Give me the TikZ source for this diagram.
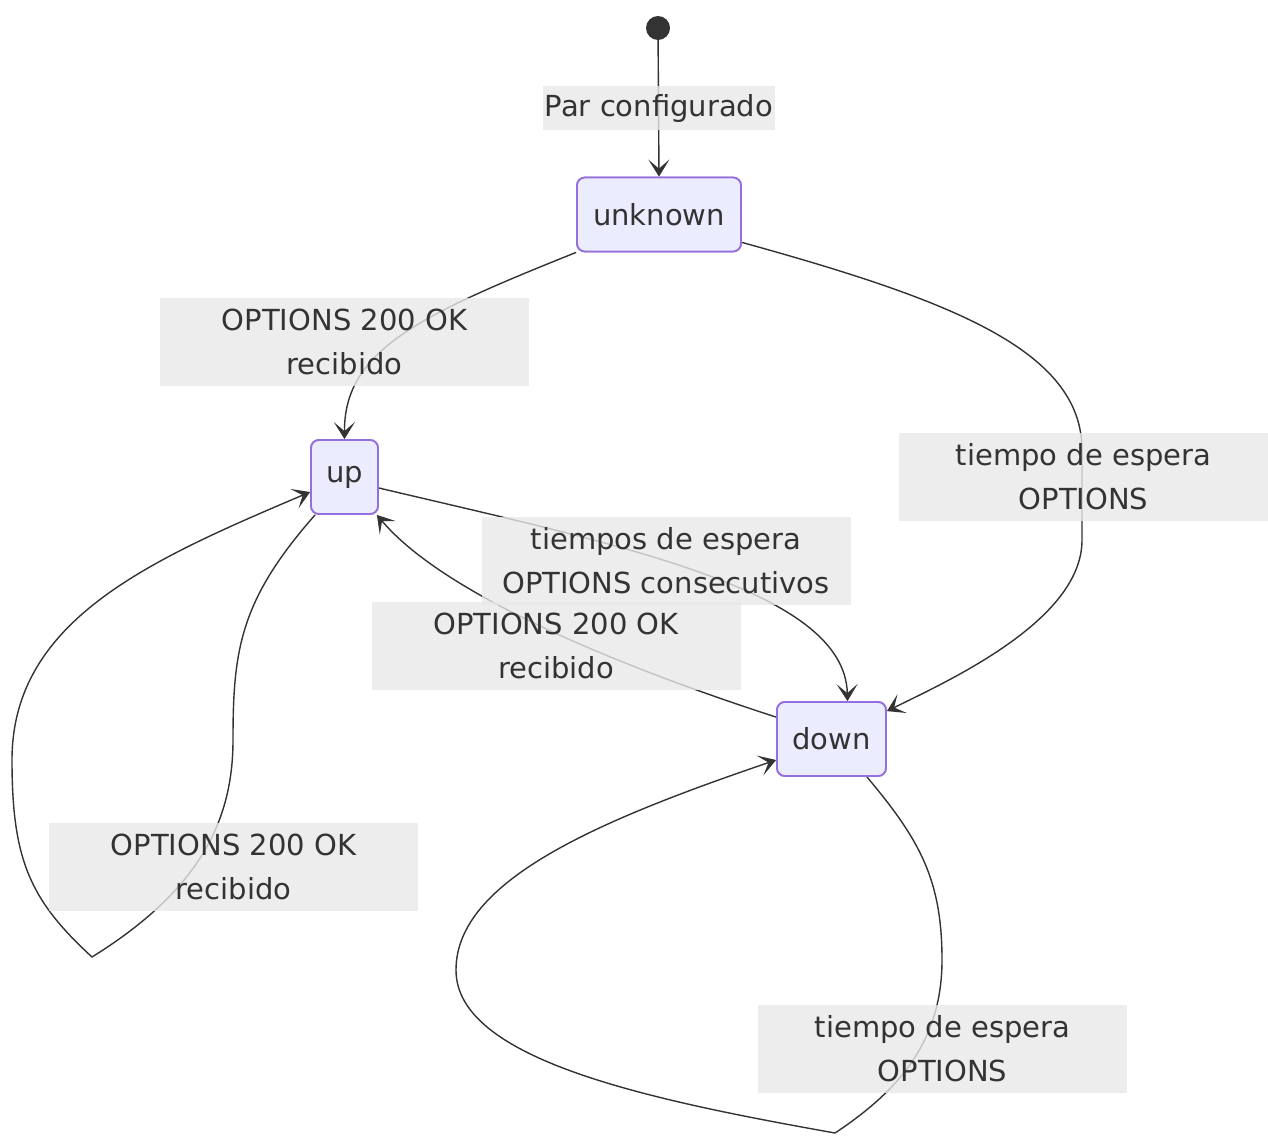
\documentclass[tikz,border=0pt]{standalone}
\usepackage{fontspec}
\setmainfont{DejaVu Sans}
\usetikzlibrary{arrows.meta}
\definecolor{edgecol}{HTML}{333333}
\definecolor{statefill}{HTML}{ECECFF}
\definecolor{stateborder}{HTML}{9370DB}
\definecolor{labelbg}{RGB}{232,232,232}
\tikzset{
  statebox/.style={draw=stateborder, line width=1.8pt, fill=statefill, rounded corners=8pt,
    minimum height=74pt, inner xsep=15pt, inner ysep=0pt, text=edgecol,
    font=\fontsize{29}{34}\selectfont},
  elabel/.style={fill=labelbg, fill opacity=0.8, text opacity=1, text=edgecol,
    minimum width=369pt, minimum height=88pt, inner sep=0pt, align=center,
    font=\fontsize{29}{44}\selectfont},
  slabel/.style={fill=labelbg, fill opacity=0.8, text opacity=1, text=edgecol,
    minimum width=232pt, minimum height=44pt, inner sep=0pt,
    font=\fontsize{29}{44}\selectfont},
  conn/.style={draw=edgecol, line width=1.4pt,
    arrows={-Stealth[length=17pt, width=21pt, inset=9pt]}},
  loopline/.style={draw=edgecol, line width=1.4pt},
}
\begin{document}
\begin{tikzpicture}[x=1pt, y=-1pt]
\useasboundingbox (0,0) rectangle (1268,1135);
% start
\node[circle, fill=edgecol, minimum size=24pt, inner sep=0pt] (start) at (658,28) {};
% states (positions)
\node[statebox, minimum width=164pt] (unknown) at (659,214.5) {unknown};
\node[statebox, minimum width=67pt, inner xsep=0pt] (up) at (344.5,477) {up};
\node[statebox, minimum width=109pt, inner xsep=0pt] (down) at (831.5,739) {down};
\coordinate (cornerA) at (92,957);
\coordinate (cornerB) at (835,1133);
% connectors
\draw[conn] (start) -- (unknown.north);
\draw[conn] (unknown.south west) .. controls (420,315) and (344,350) .. (up.north);
\draw[conn] ([yshift=10pt]unknown.south east) .. controls (950,300) and (1082,350) .. (1082,450)
   -- (1082,540) .. controls (1082,620) and (950,680) .. ([yshift=-10pt]down.north east);
\draw[conn] ([yshift=-11pt]up.east) .. controls (620,545) and (845,590) .. ([xshift=16pt]down.north);
\draw[conn] ([yshift=-16pt]down.north west) .. controls (600,660) and (440,590) .. ([xshift=-2pt]up.south east);
% self loop on up
\draw[loopline] ([xshift=5pt]up.south west) .. controls (240,600) and (233,650) .. (233,740)
   .. controls (233,820) and (200,890) .. (cornerA);
\draw[conn] (cornerA) .. controls (30,900) and (12,860) .. (12,760)
   .. controls (12,620) and (150,560) .. ([yshift=-15pt]up.west);
% self loop on down
\draw[loopline] ([xshift=-20pt]down.south east) .. controls (920,840) and (942,880) .. (942,960)
   .. controls (942,1040) and (900,1090) .. (cornerB);
\draw[conn] (cornerB) .. controls (650,1100) and (456,1060) .. (456,970)
   .. controls (456,880) and (600,820) .. ([yshift=-21pt]down.west);
% labels
\node[slabel] (l0) at (659,108) {Par configurado};
\node[elabel] (l1) at (344.5,342) {OPTIONS 200 OK\\recibido};
\node[elabel] (l2) at (1083.5,476.5) {tiempo de espera\\OPTIONS};
\node[elabel] (l3) at (666,560.5) {tiempos de espera\\OPTIONS consecutivos};
\node[elabel] (l4) at (556,646) {OPTIONS 200 OK\\recibido};
\node[elabel] (l5) at (233.5,866.5) {OPTIONS 200 OK\\recibido};
\node[elabel] (l6) at (942.5,1048.5) {tiempo de espera\\OPTIONS};
% redraw states on top
\node[statebox, minimum width=164pt] at (unknown) {unknown};
\node[statebox, minimum width=67pt, inner xsep=0pt] at (up) {up};
\node[statebox, minimum width=109pt, inner xsep=0pt] at (down) {down};
\end{tikzpicture}
\end{document}
